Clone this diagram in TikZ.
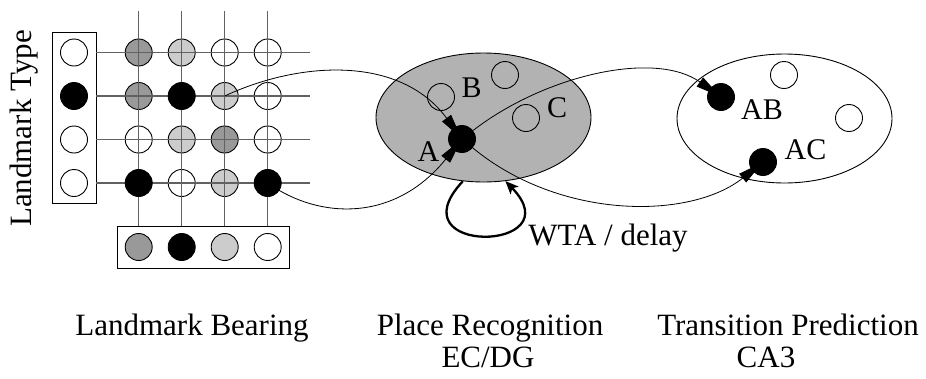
\documentclass[tikz,border=0pt]{standalone}
\usepackage{fontspec}
\setmainfont{Liberation Serif}
\usetikzlibrary{shapes.geometric,arrows.meta}

\begin{document}
\begin{tikzpicture}[x=1pt,y=-1pt,
  unit/.style={circle,draw=black,line width=0.9pt,minimum size=27pt,inner sep=0pt},
  off/.style={unit,fill=white},
  hollow/.style={unit},
  dark/.style={unit,fill=black!40},
  light/.style={unit,fill=black!20},
  on/.style={unit,fill=black},
  wire/.style={draw=black!62,line width=1.4pt},
  frame/.style={draw=black,line width=0.9pt,inner sep=0pt},
  area/.style={ellipse,draw=black,line width=0.9pt,minimum width=215pt,minimum height=129pt,inner sep=0pt},
  link/.style={draw=black,line width=0.8pt,-{Triangle[length=25pt,width=11pt]},shorten >=-13pt},
  selfloop/.style={draw=black,line width=2.3pt,-{Stealth[length=13pt,width=11pt,inset=3pt]}},
  big/.style={font=\fontsize{31}{36}\selectfont,inner sep=0pt},
  lbl/.style={font=\fontsize{30}{34}\selectfont,inner sep=0pt},
]
\useasboundingbox (0,0) rectangle (926,378);

% input frames
\node[frame,minimum width=44pt,minimum height=171pt] (lbox) at (74,117.5) {};
\node[frame,minimum width=172pt,minimum height=42pt] (bbox) at (203,247) {};

% landmark type units
\node[off] (l1) at (74,52.5) {};
\node[on]  (l2) at (74,96)   {};
\node[off] (l3) at (74,139.5) {};
\node[off] (l4) at (74,183)  {};

% landmark bearing units
\node[dark]  (b1) at (138.7,247) {};
\node[on]    (b2) at (181.7,247) {};
\node[light] (b3) at (224.7,247) {};
\node[off]   (b4) at (267.7,247) {};

% conjunctive grid (non-black units first)
\node[dark]  (g11) at (138.7,52.5) {};
\node[light] (g12) at (181.7,52.5) {};
\node[off]   (g13) at (224.7,52.5) {};
\node[off]   (g14) at (267.7,52.5) {};
\node[dark]  (g21) at (138.7,96) {};
\node[light] (g23) at (224.7,96) {};
\node[off]   (g24) at (267.7,96) {};
\node[off]   (g31) at (138.7,139.5) {};
\node[light] (g32) at (181.7,139.5) {};
\node[dark]  (g33) at (224.7,139.5) {};
\node[off]   (g34) at (267.7,139.5) {};
\node[off]   (g42) at (181.7,183) {};
\node[light] (g43) at (224.7,183) {};

% grid wires
\foreach \r in {l1,l2,l3,l4}
  \draw[wire] (\r -| lbox.east) -- ++(214,0);
\foreach \c in {b1,b2,b3,b4}
  \draw[wire] (\c |- 0,11) -- (\c |- bbox.north);

% active grid units on top
\node[on] (g22) at (181.7,96) {};
\node[on] (g41) at (138.7,183) {};
\node[on] (g44) at (267.7,183) {};

% place recognition area
\node[area,fill=black!30] (pr) at (483.5,117.5) {};
\node[hollow] (p1) at (441,97) {};
\node[hollow] (p2) at (505,75) {};
\node[hollow] (p3) at (526,118) {};
\node[on]  (A)  at (462,139) {};
\node[lbl] at (471.5,87.5) {B};
\node[lbl] at (557,108) {C};
\node[lbl] at (428.5,152) {A};

% transition prediction area
\node[area,fill=white] (tp) at (784.5,118.5) {};
\node[hollow] (t1) at (784,75) {};
\node[hollow] (t2) at (849,118) {};
\node[on]  (AB) at (721,97) {};
\node[on]  (AC) at (763,162) {};
\node[lbl] at (762,109.5) {AB};
\node[lbl] at (805.5,150) {AC};

% projections
\draw[link] (g23.center) .. controls +(75,-35) and +(-62,-84) .. (A);
\draw[link] (g44.center) .. controls +(52,37) and +(-67,83) .. (A);
\draw[link] (A) .. controls +(83,-64) and +(-66,-47) .. (AB);
\draw[link] (A) .. controls +(98,81) and +(-73,58) .. (AC);

% winner-take-all recurrence
\draw[selfloop] (pr.-108) .. controls +(-70,75) and +(69,71) .. (pr.-71);
\node[big,anchor=base] at (608,245) {WTA / delay};

% captions
\node[big,anchor=base,rotate=90] at (31.5,128.5) {Landmark Type};
\node[big,anchor=base] at (192,335) {Landmark Bearing};
\node[big,anchor=base] at (490,335) {Place Recognition};
\node[big,anchor=base] at (488,367) {EC/DG};
\node[big,anchor=base] at (788,335) {Transition Prediction};
\node[big,anchor=base] at (766,367) {CA3};
\end{tikzpicture}
\end{document}
